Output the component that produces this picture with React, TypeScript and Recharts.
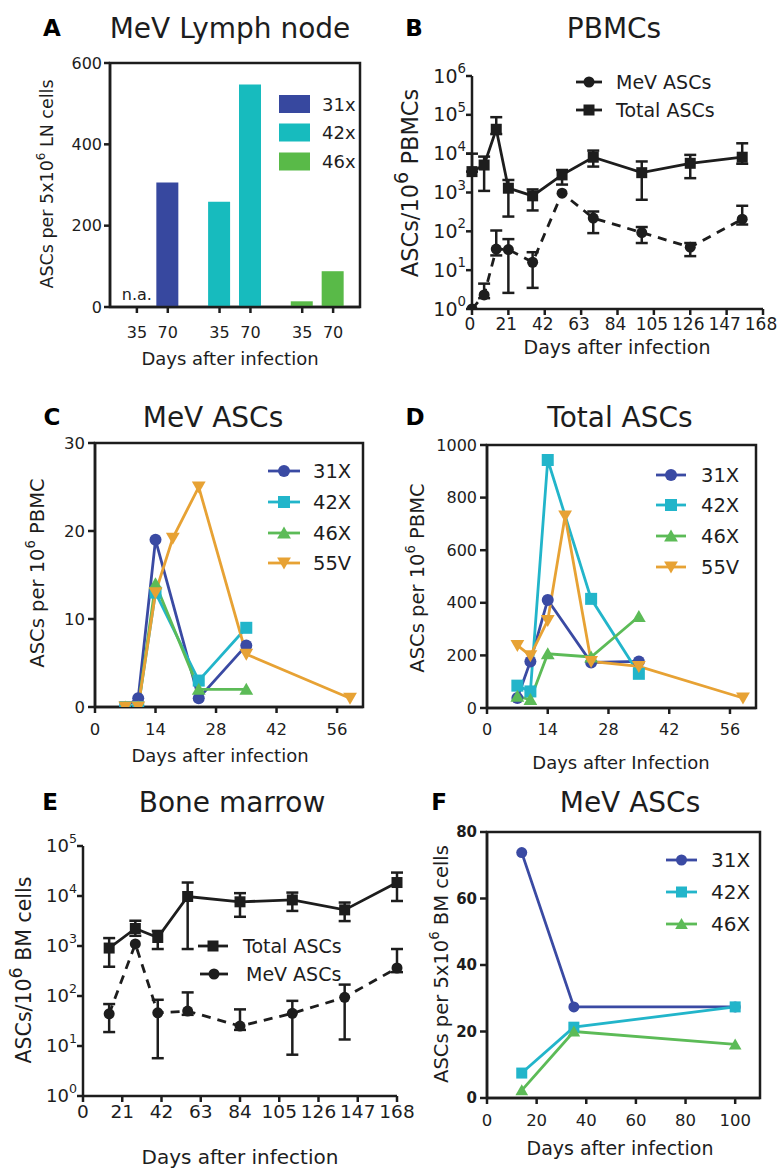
import React from 'react';
import {
  BarChart,
  Bar,
  LineChart,
  Line,
  XAxis,
  YAxis,
  ErrorBar,
  ReferenceArea,
  ReferenceDot,
} from 'recharts';

const FONT = '"DejaVu Sans", Verdana, sans-serif';
const INK = '#1d1d1d';

// A: MeV lymph node
const lnStrains = ['31x', '42x', '46x'];
const lnColors = ['#37489F', '#17BBBE', '#59BA48'];
const lnDays = [35, 70];
const ln31 = [null, 306];
const ln42 = [259, 547];
const ln46 = [14, 88];

// B: PBMCs (log scale, mean with error range)
const pbmcDays = [0, 7, 14, 21, 35, 52, 70, 98, 126, 156];
const pbmcTotal = [3450, 5100, 42500, 1290, 820, 2840, 8100, 3240, 5650, 8100];
const pbmcTotalLo = [3450, 1100, 32000, 240, 345, 1600, 4650, 650, 2340, 5500];
const pbmcTotalHi = [10000, 8400, 87000, 2100, 1200, 3800, 12000, 6300, 9300, 18500];
const pbmcMev = [1, 2.3, 35, 34, 16, 960, 220, 93, 39, 206];
const pbmcMevLo = [1, 1.9, 24, 2.6, 3.5, 960, 90, 50, 23, 150];
const pbmcMevHi = [1, 4.5, 105, 63, 29, 960, 324, 129, 50, 455];

// C / D / F strains
const strainNames = ['31X', '42X', '46X', '55V'];
const strainColors = ['#3A4AA3', '#22B5CA', '#5CBB57', '#E7A234'];
const strainShapes = ['circle', 'square', 'triangle', 'triangleDown'];

// C: MeV ASCs per 10^6 PBMC
const mevDays31 = [7, 10, 14, 24, 35];
const mevVals31 = [0, 1, 19, 1, 7];
const mevDays42 = [7, 10, 14, 24, 35];
const mevVals42 = [0, 0, 13, 3, 9];
const mevDays46 = [7, 10, 14, 24, 35];
const mevVals46 = [0, 0, 14, 2, 2];
const mevDays55 = [7, 10, 14, 18, 24, 35, 59];
const mevVals55 = [0, 0, 13, 19.2, 25, 6, 1];

// D: total ASCs per 10^6 PBMC
const totDays31 = [7, 10, 14, 24, 35];
const totVals31 = [38, 177, 411, 173, 177];
const totDays42 = [7, 10, 14, 24, 35];
const totVals42 = [85, 63, 943, 415, 130];
const totDays46 = [7, 10, 14, 24, 35];
const totVals46 = [44, 32, 206, 194, 348];
const totDays55 = [7, 10, 14, 18, 24, 35, 59];
const totVals55 = [238, 199, 333, 730, 177, 158, 38];

// E: bone marrow (log scale)
const bmDays = [14, 28, 40, 56, 84, 112, 140, 168];
const bmTotal = [910, 2240, 1480, 9770, 7650, 8350, 5280, 18600];
const bmTotalLo = [385, 1600, 870, 870, 3840, 5030, 3150, 7950];
const bmTotalHi = [1440, 3200, 2000, 18600, 11400, 11700, 7400, 29400];
const bmMev = [44, 1100, 46, 50, 25, 45, 94, 363];
const bmMevLo = [19, 1100, 5.7, 42, 21, 6.7, 13.5, 300];
const bmMevHi = [69, 1100, 84, 118, 54, 80, 169, 870];

// F: MeV ASCs per 5x10^6 BM cells
const bmAscDays = [14, 35, 100];
const bmAsc31 = [73.8, 27.4, 27.4];
const bmAsc42 = [7.5, 21.3, 27.4];
const bmAsc46 = [2.3, 20, 16.1];

const lnRows = lnStrains.flatMap((s, g) =>
  lnDays.map((d, i) => ({ slot: 1 + g * 2.675 + i, day: d, [s]: [ln31, ln42, ln46][g][i] })),
);

const errPair = (v: number, lo: number, hi: number) =>
  lo === v && hi === v ? null : [v - lo, hi - v];

const pbmcRows = pbmcDays.map((day, i) => ({
  day,
  total: pbmcTotal[i],
  totalErr: errPair(pbmcTotal[i], pbmcTotalLo[i], pbmcTotalHi[i]),
  mev: pbmcMev[i],
  mevErr: errPair(pbmcMev[i], pbmcMevLo[i], pbmcMevHi[i]),
}));

const bmRows = bmDays.map((day, i) => ({
  day,
  total: bmTotal[i],
  totalErr: errPair(bmTotal[i], bmTotalLo[i], bmTotalHi[i]),
  mev: bmMev[i],
  mevErr: errPair(bmMev[i], bmMevLo[i], bmMevHi[i]),
}));

const zip = (days: number[], vals: number[]) => days.map((day, i) => ({ day, value: vals[i] }));

const mevSeries = [
  zip(mevDays31, mevVals31),
  zip(mevDays42, mevVals42),
  zip(mevDays46, mevVals46),
  zip(mevDays55, mevVals55),
];
const totSeries = [
  zip(totDays31, totVals31),
  zip(totDays42, totVals42),
  zip(totDays46, totVals46),
  zip(totDays55, totVals55),
];
const bmAscSeries = [zip(bmAscDays, bmAsc31), zip(bmAscDays, bmAsc42), zip(bmAscDays, bmAsc46)];

function Marker({ shape, cx, cy, color, size }: any) {
  const h = size / 2;
  if (shape === 'circle') return <circle cx={cx} cy={cy} r={h} fill={color} />;
  if (shape === 'square')
    return <rect x={cx - h} y={cy - h} width={size} height={size} fill={color} />;
  if (shape === 'triangle')
    return (
      <polygon
        points={`${cx},${cy - h * 1.1} ${cx - h * 1.15},${cy + h * 0.9} ${cx + h * 1.15},${cy + h * 0.9}`}
        fill={color}
      />
    );
  return (
    <polygon
      points={`${cx},${cy + h * 1.1} ${cx - h * 1.15},${cy - h * 0.9} ${cx + h * 1.15},${cy - h * 0.9}`}
      fill={color}
    />
  );
}

const dotFn = (shape: string, color: string, size: number) => (p: any) => {
  if (p.cx == null || p.cy == null || p.value == null) return <g key={`e-${p.index}`} />;
  return <Marker key={`${shape}-${p.index}`} shape={shape} cx={p.cx} cy={p.cy} color={color} size={size} />;
};

function PowTick(props: any) {
  const { x, y, payload, fs } = props;
  const exp = Math.round(Math.log10(payload.value));
  return (
    <text x={x} y={y + fs * 0.35} textAnchor="end" fill={INK} fontFamily={FONT} fontSize={fs}>
      10
      <tspan dy={-fs * 0.5} fontSize={fs * 0.7}>
        {exp}
      </tspan>
    </text>
  );
}

const axisLine = { stroke: INK, strokeWidth: 2.5 };
const tickLine = { stroke: INK, strokeWidth: 2.5 };
const tickFont = (fs: number, bold = false) => ({
  fill: INK,
  fontSize: fs,
  fontFamily: FONT,
  fontWeight: bold ? 'bold' : 'normal',
});

function Title({ x, y, text, fs = 28 }: any) {
  return (
    <text x={x} y={y + fs * 0.36} textAnchor="middle" fontSize={fs} fontFamily={FONT} fill={INK}>
      {text}
    </text>
  );
}

function Letter({ x, y, text }: any) {
  return (
    <text x={x} y={y + 8} textAnchor="middle" fontSize={23} fontWeight="bold" fontFamily={FONT} fill="#000">
      {text}
    </text>
  );
}

function VLabel({ cx, cy, fs, pre, sup, post, supScale = 0.68 }: any) {
  return (
    <text
      transform={`translate(${cx},${cy}) rotate(-90)`}
      x={0}
      y={fs * 0.36}
      textAnchor="middle"
      fontSize={fs}
      fontFamily={FONT}
      fill={INK}
    >
      {pre}
      <tspan dy={-fs * 0.45} fontSize={fs * supScale}>
        {sup}
      </tspan>
      <tspan dy={fs * 0.45}>{post}</tspan>
    </text>
  );
}

function LegendRow({ x1, x2, y, shape, color, label, tx, fs, ms }: any) {
  return (
    <g>
      <line x1={x1} x2={x2} y1={y} y2={y} stroke={color} strokeWidth={2.8} />
      <Marker shape={shape} cx={(x1 + x2) / 2} cy={y} color={color} size={ms} />
      <text x={tx} y={y + fs * 0.36} fontSize={fs} fontFamily={FONT} fill={INK}>
        {label}
      </text>
    </g>
  );
}

const pos = (left: number, top: number): React.CSSProperties => ({ position: 'absolute', left, top });

function PanelA() {
  return (
    <div style={pos(0, 0)}>
      <BarChart
        width={389}
        height={380}
        data={lnRows}
        margin={{ top: 63, right: 29, bottom: 43, left: 50 }}
      >
        <XAxis
          type="number"
          dataKey="slot"
          domain={[0.13, 8.22]}
          ticks={lnRows.map((r) => r.slot)}
          interval={0}
          tickFormatter={(v: number) => {
            const r = lnRows.find((row) => Math.abs(row.slot - v) < 1e-6);
            return r ? String(r.day) : '';
          }}
          height={30}
          axisLine={axisLine}
          tickLine={tickLine}
          tickSize={6}
          tickMargin={14}
          tick={tickFont(16)}
        />
        <YAxis
          domain={[0, 600]}
          ticks={[0, 200, 400, 600]}
          interval={0}
          width={60}
          axisLine={axisLine}
          tickLine={tickLine}
          tickSize={6}
          tickMargin={2}
          tick={tickFont(16)}
        />
        {lnStrains.map((s, i) => (
          <Bar key={s} dataKey={s} stackId="ln" fill={lnColors[i]} barSize={22} isAnimationActive={false} />
        ))}
        <ReferenceArea
          x1={0.13}
          x2={8.22}
          y1={0}
          y2={600}
          fill="none"
          stroke={INK}
          strokeWidth={2.5}
          ifOverflow="visible"
        />
        <ReferenceDot
          x={lnRows[0].slot}
          y={0}
          r={1}
          fill="none"
          stroke="none"
          label={{ value: 'n.a.', position: 'top', fontSize: 16, fontFamily: FONT, fill: INK, offset: 6 }}
        />
      </BarChart>
    </div>
  );
}

function LogPanel({ left, top, width, height, margin, rows, yDomain, yTicks, xTicks, xDomain, fsY, fsX, xShift = 0 }: any) {
  return (
    <div style={pos(left, top)}>
      <LineChart width={width} height={height} data={rows} margin={margin}>
        <XAxis
          type="number"
          dataKey="day"
          domain={xDomain}
          ticks={xTicks}
          interval={0}
          height={30}
          axisLine={axisLine}
          tickLine={tickLine}
          tickSize={6}
          tickMargin={3}
          tick={{ ...tickFont(fsX), dx: xShift }}
        />
        <YAxis
          scale="log"
          domain={yDomain}
          ticks={yTicks}
          interval={0}
          allowDataOverflow
          width={60}
          axisLine={axisLine}
          tickLine={tickLine}
          tickSize={6}
          tickMargin={0}
          tick={(p: any) => <PowTick {...p} fs={fsY} />}
        />
        <Line
          dataKey="mev"
          stroke={INK}
          strokeWidth={2.8}
          strokeDasharray="9 7"
          dot={dotFn('circle', INK, 11)}
          isAnimationActive={false}
        >
          <ErrorBar dataKey="mevErr" direction="y" width={6} stroke={INK} strokeWidth={2.5} />
        </Line>
        <Line
          dataKey="total"
          stroke={INK}
          strokeWidth={2.8}
          dot={dotFn('square', INK, 11)}
          isAnimationActive={false}
        >
          <ErrorBar dataKey="totalErr" direction="y" width={6} stroke={INK} strokeWidth={2.5} />
        </Line>
      </LineChart>
    </div>
  );
}

function StrainPanel({ left, top, width, height, margin, series, yDomain, yTicks, xDomain, xTicks, fsY, fsX, boldY, yWidth, ms }: any) {
  return (
    <div style={pos(left, top)}>
      <LineChart width={width} height={height} margin={margin}>
        <XAxis
          type="number"
          dataKey="day"
          domain={xDomain}
          ticks={xTicks}
          interval={0}
          allowDataOverflow
          height={30}
          axisLine={axisLine}
          tickLine={tickLine}
          tickSize={6}
          tickMargin={10}
          tick={tickFont(fsX)}
        />
        <YAxis
          type="number"
          domain={yDomain}
          ticks={yTicks}
          interval={0}
          allowDataOverflow
          width={yWidth}
          axisLine={axisLine}
          tickLine={tickLine}
          tickSize={7}
          tickMargin={3}
          tick={tickFont(fsY, boldY)}
        />
        <ReferenceArea
          x1={xDomain[0]}
          x2={xDomain[1]}
          y1={yDomain[0]}
          y2={yDomain[1]}
          fill="none"
          stroke={INK}
          strokeWidth={2.5}
          ifOverflow="visible"
        />
        {series.map((data: any[], i: number) => (
          <Line
            key={strainNames[i]}
            data={data}
            dataKey="value"
            name={strainNames[i]}
            stroke={strainColors[i]}
            strokeWidth={2.8}
            dot={dotFn(strainShapes[i], strainColors[i], ms)}
            isAnimationActive={false}
          />
        ))}
      </LineChart>
    </div>
  );
}

function Overlay() {
  const lnLegendY = [104, 132.5, 161.5];
  return (
    <svg
      width={778}
      height={1170}
      style={{ position: 'absolute', left: 0, top: 0, pointerEvents: 'none' }}
    >
      {/* A */}
      <Letter x={52} y={28} text="A" />
      <Title x={230} y={28} text="MeV Lymph node" />
      <VLabel cx={47} cy={184} fs={17.5} pre="ASCs per 5x10" sup="6" post=" LN cells" />
      <text x={230} y={358 + 6.5} textAnchor="middle" fontSize={18} fontFamily={FONT} fill={INK}>
        Days after infection
      </text>
      {lnStrains.map((s, i) => (
        <g key={s}>
          <rect x={279} y={lnLegendY[i] - 9} width={31} height={18} fill={lnColors[i]} />
          <text x={322} y={lnLegendY[i] + 6.5} fontSize={18} fontFamily={FONT} fill={INK}>
            {s}
          </text>
        </g>
      ))}

      {/* B */}
      <Letter x={414} y={28} text="B" />
      <Title x={614} y={28} text="PBMCs" />
      <VLabel cx={410} cy={183} fs={22.5} pre="ASCs/10" sup="6" post=" PBMCs" supScale={0.85} />
      <text x={617} y={347 + 7} textAnchor="middle" fontSize={19} fontFamily={FONT} fill={INK}>
        Days after infection
      </text>
      <LegendRow x1={576} x2={602} y={82} shape="circle" color={INK} label="MeV ASCs" tx={616} fs={19} ms={11} />
      <LegendRow x1={576} x2={602} y={110} shape="square" color={INK} label="Total ASCs" tx={616} fs={19} ms={11} />

      {/* C */}
      <Letter x={52} y={417} text="C" />
      <Title x={213} y={417} text="MeV ASCs" />
      <VLabel cx={37} cy={573} fs={19.5} pre="ASCs per 10" sup="6" post=" PBMC" />
      <text x={220} y={755 + 6.5} textAnchor="middle" fontSize={18} fontFamily={FONT} fill={INK}>
        Days after infection
      </text>
      {strainNames.map((s, i) => (
        <LegendRow
          key={s}
          x1={268}
          x2={300}
          y={[471, 502, 533, 563][i]}
          shape={strainShapes[i]}
          color={strainColors[i]}
          label={s}
          tx={313}
          fs={19.5}
          ms={12}
        />
      ))}

      {/* D */}
      <Letter x={415} y={417} text="D" />
      <Title x={620} y={417} text="Total ASCs" />
      <VLabel cx={417} cy={578} fs={19.5} pre="ASCs per 10" sup="6" post=" PBMC" />
      <text x={621} y={762 + 6.5} textAnchor="middle" fontSize={18} fontFamily={FONT} fill={INK}>
        Days after Infection
      </text>
      {strainNames.map((s, i) => (
        <LegendRow
          key={s}
          x1={656}
          x2={686}
          y={[475, 505, 536, 567][i]}
          shape={strainShapes[i]}
          color={strainColors[i]}
          label={s}
          tx={701}
          fs={19.5}
          ms={12}
        />
      ))}

      {/* E */}
      <Letter x={50} y={802} text="E" />
      <Title x={232} y={802} text="Bone marrow" />
      <VLabel cx={24} cy={970} fs={20.5} pre="ASCs/10" sup="6" post=" BM cells" supScale={0.85} />
      <text x={240} y={1157 + 7} textAnchor="middle" fontSize={20} fontFamily={FONT} fill={INK}>
        Days after infection
      </text>
      <LegendRow x1={198} x2={228} y={946} shape="square" color={INK} label="Total ASCs" tx={243} fs={19} ms={11} />
      <LegendRow x1={200} x2={228} y={974} shape="circle" color={INK} label="MeV ASCs" tx={246} fs={19} ms={11} />

      {/* F */}
      <Letter x={439} y={802} text="F" />
      <Title x={630} y={802} text="MeV ASCs" />
      <VLabel cx={441} cy={964} fs={19.5} pre="ASCs per 5x10" sup="6" post=" BM cells" />
      <text x={620} y={1148 + 7} textAnchor="middle" fontSize={19} fontFamily={FONT} fill={INK}>
        Days after infection
      </text>
      {strainNames.slice(0, 3).map((s, i) => (
        <LegendRow
          key={s}
          x1={666}
          x2={697}
          y={[860, 892, 924][i]}
          shape={strainShapes[i]}
          color={strainColors[i]}
          label={s}
          tx={711}
          fs={20}
          ms={11}
        />
      ))}
    </svg>
  );
}

export default function App() {
  return (
    <div
      style={{
        position: 'absolute',
        left: 0,
        top: 0,
        width: 778,
        height: 1170,
        background: '#fff',
        fontFamily: FONT,
        overflow: 'hidden',
      }}
    >
      <PanelA />
      <LogPanel
        left={389}
        top={0}
        width={400}
        height={380}
        margin={{ top: 76, right: 26, bottom: 41, left: 23 }}
        rows={pbmcRows}
        yDomain={[1, 1e6]}
        yTicks={[1, 10, 100, 1e3, 1e4, 1e5, 1e6]}
        xDomain={[0, 168]}
        xTicks={[0, 21, 42, 63, 84, 105, 126, 147, 168]}
        fsY={19}
        fsX={17}
        xShift={-2}
      />
      <StrainPanel
        left={0}
        top={380}
        width={389}
        height={390}
        margin={{ top: 63, right: 26, bottom: 33, left: 45 }}
        series={mevSeries}
        yDomain={[0, 30]}
        yTicks={[0, 10, 20, 30]}
        xDomain={[0, 62]}
        xTicks={[0, 14, 28, 42, 56]}
        fsY={16.5}
        fsX={16.5}
        yWidth={50}
        ms={12}
      />
      <StrainPanel
        left={389}
        top={380}
        width={389}
        height={390}
        margin={{ top: 65, right: 22, bottom: 32, left: 38 }}
        series={totSeries}
        yDomain={[0, 1000]}
        yTicks={[0, 200, 400, 600, 800, 1000]}
        xDomain={[0, 62]}
        xTicks={[0, 14, 28, 42, 56]}
        fsY={16}
        fsX={16}
        yWidth={60}
        ms={12}
      />
      <LogPanel
        left={0}
        top={770}
        width={420}
        height={400}
        margin={{ top: 76, right: 23, bottom: 44, left: 23 }}
        rows={bmRows}
        yDomain={[1, 1e5]}
        yTicks={[1, 10, 100, 1e3, 1e4, 1e5]}
        xDomain={[0, 168]}
        xTicks={[0, 21, 42, 63, 84, 105, 126, 147, 168]}
        fsY={18}
        fsX={18.5}
      />
      <StrainPanel
        left={389}
        top={770}
        width={389}
        height={400}
        margin={{ top: 62, right: 18, bottom: 42, left: 48 }}
        series={bmAscSeries}
        yDomain={[0, 80]}
        yTicks={[0, 20, 40, 60, 80]}
        xDomain={[0, 110]}
        xTicks={[0, 20, 40, 60, 80, 100]}
        fsY={15}
        fsX={16.5}
        boldY
        yWidth={50}
        ms={11}
      />
      <Overlay />
    </div>
  );
}
